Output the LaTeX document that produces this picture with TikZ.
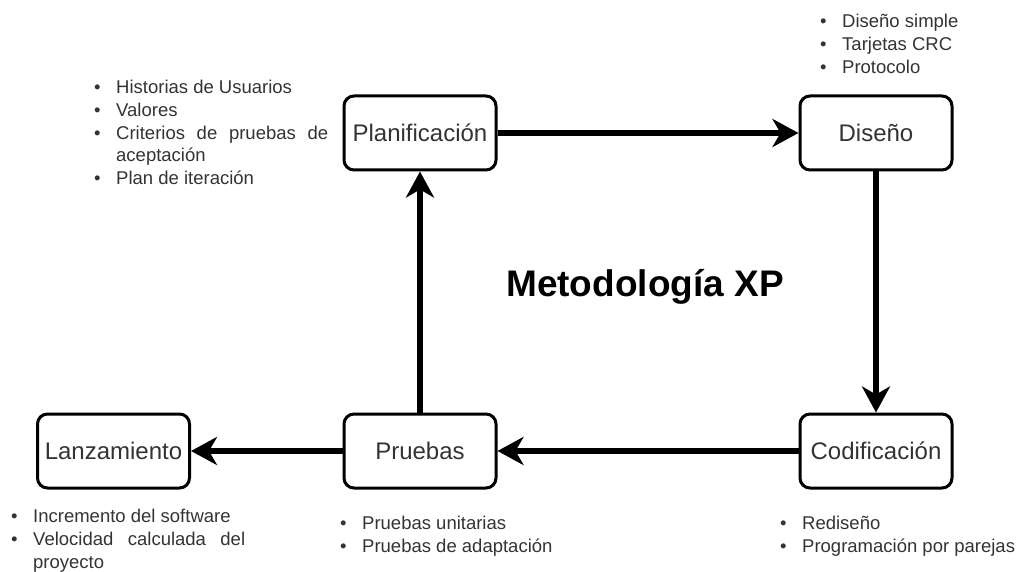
\documentclass[tikz,border=0pt]{standalone}
\usepackage{fontspec}
\setmainfont{Liberation Sans}
\usetikzlibrary{arrows.meta}
\definecolor{txt}{HTML}{333333}

% justified lists: no hyphenation, loose spacing allowed
\tolerance=10000\relax
\hyphenpenalty=10000\relax
\exhyphenpenalty=10000\relax
\hbadness=10000\relax

% bullet item with hanging indent
\newlength\bind
\setlength\bind{22pt}
\newcommand\bitem[1]{\par\noindent\hangindent=\bind\hangafter=1\relax\makebox[\bind][l]{\strut\textbullet}#1\par}

\tikzset{
  phase/.style={draw, line width=3pt, rounded corners=10pt,
    minimum width=152pt, minimum height=74pt, inner sep=0pt,
    font=\fontsize{24}{29}\selectfont, text=txt},
  flow/.style={line width=5.5pt, -{Stealth[length=26pt,width=28pt,inset=8pt]}},
  notes/.style={anchor=north west, inner sep=0pt, align=justify,
    font=\fontsize{18.5}{22.7}\selectfont, text=txt},
}

\begin{document}
\begin{tikzpicture}[x=1pt, y=-1pt]
\useasboundingbox (0,0) rectangle (1026,572);

% phases
\node[phase] (plan) at (420,133) {Planificación};
\node[phase] (dis)  at (876,133) {Diseño};
\node[phase] (cod)  at (876,451) {Codificación};
\node[phase] (pru)  at (420,451) {Pruebas};
\node[phase] (lan)  at (113.5,451) {Lanzamiento};

% cycle
\draw[flow] (plan) -- (dis);
\draw[flow] (dis) -- (cod);
\draw[flow] (cod) -- (pru);
\draw[flow] (pru) -- (lan);
\draw[flow] (pru) -- (plan);

% title
\node[anchor=base, font=\fontsize{37}{44}\selectfont\bfseries] (title) at (645,297) {Metodología XP};

% activity lists
\node[notes, text width=234pt] (nplan) at (94,71) {%
  \bitem{Historias de Usuarios}%
  \bitem{Valores}%
  \bitem{Criterios de pruebas de aceptación}%
  \bitem{Plan de iteración}};
\node[notes, text width=200pt] (ndis) at (820,5) {%
  \bitem{Diseño simple}%
  \bitem{Tarjetas CRC}%
  \bitem{Protocolo}};
\node[notes, text width=234pt] (nlan) at (11,500) {%
  \bitem{Incremento del software}%
  \bitem{Velocidad calculada del proyecto}};
\node[notes, text width=230pt] (npru) at (340,507) {%
  \bitem{Pruebas unitarias}%
  \bitem{Pruebas de adaptación}};
\node[notes, text width=244pt] (ncod) at (780,507) {%
  \bitem{Rediseño}%
  \bitem{Programación por parejas}};
\end{tikzpicture}
\end{document}
